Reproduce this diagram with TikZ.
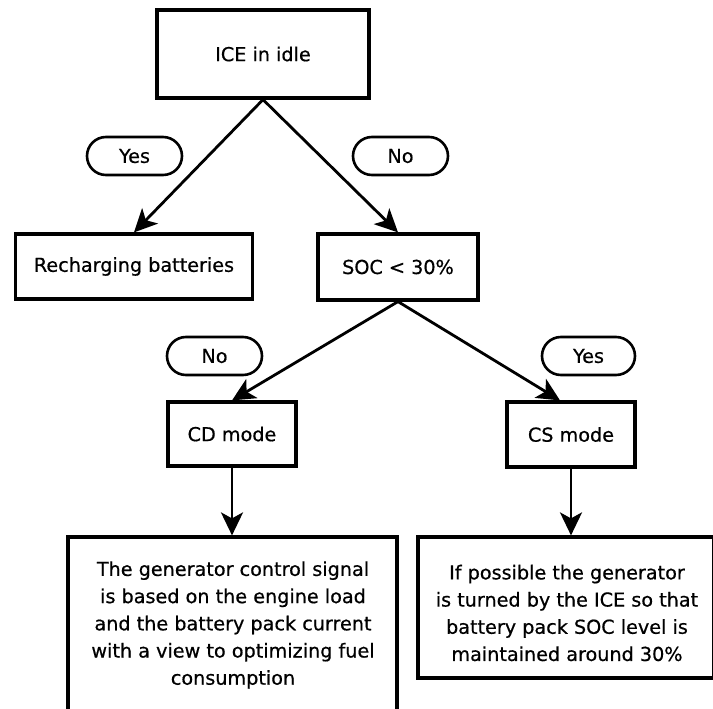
\documentclass[tikz,border=0pt]{standalone}
\usepackage{fontspec}
\setmainfont[FakeBold=0.6]{DejaVu Sans}
\usetikzlibrary{arrows.meta,calc}
\tikzset{
  box/.style={draw, line width=3.2pt, rectangle, inner sep=0pt, align=center},
  pill/.style={draw, line width=2.6pt, rectangle, rounded corners=19pt, minimum width=95pt, minimum height=38pt, inner sep=0pt},
  conn/.style={line width=2.8pt, -{Stealth[length=23pt, width=22pt, inset=6pt]}},
  txt/.style={align=center, inner sep=0pt}
}
\begin{document}
\begin{tikzpicture}[x=1pt, y=-1pt, font=\fontsize{19.2}{27.2}\selectfont]
\useasboundingbox (0,0) rectangle (713,709);
% boxes
\node[box, minimum width=212pt, minimum height=88pt] (ice) at (263,54) {ICE in idle};
\node[box, minimum width=237pt, minimum height=65pt] (rech) at (134,266.5) {Recharging batteries};
\node[box, minimum width=160pt, minimum height=66pt] (soc) at (398,267) {SOC < 30\%};
\node[box, minimum width=128pt, minimum height=64pt] (cd) at (232,434) {CD mode};
\node[box, minimum width=128pt, minimum height=65pt] (cs) at (571,434.5) {CS mode};
\node[box, minimum width=329pt, minimum height=220pt] (gen) at (232.5,647) {};
\node[box, minimum width=296pt, minimum height=141pt] (keep) at (566,607.5) {};
% texts of the large boxes
\node[txt] (gentxt) at (233,625) {The generator control signal\\is based on the engine load\\and the battery pack current\\with a view to optimizing fuel\\consumption};
\node[txt] (keeptxt) at (567,613) {If possible the generator\\is turned by the ICE so that\\battery pack SOC level is\\maintained around 30\%};
% labels
\node[pill] (yes1) at (134.5,156) {Yes};
\node[pill] (no1) at (400.5,156) {No};
\node[pill] (no2) at (214.5,356) {No};
\node[pill, minimum width=93pt] (yes2) at (588.5,356) {Yes};
% connectors
\draw[conn] (ice.south) -- (rech.north);
\draw[conn] (ice.south) -- (soc.north);
\draw[conn] (soc.south) -- (cd.north);
\draw[conn] (soc.south) -- ([xshift=-11pt]cs.north);
\draw[conn] (cd.south) -- (cd.south |- gen.north);
\draw[conn] (cs.south) -- (cs.south |- keep.north);
\end{tikzpicture}
\end{document}
